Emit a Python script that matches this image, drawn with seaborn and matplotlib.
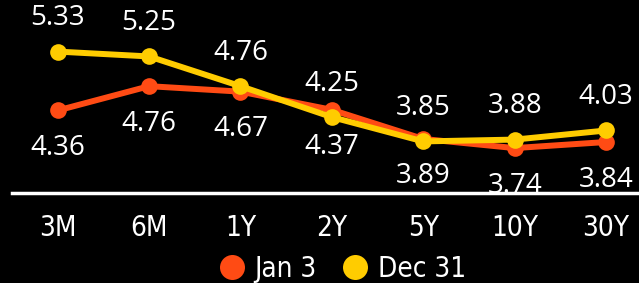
import matplotlib
matplotlib.use("Agg")
import matplotlib.pyplot as plt
from matplotlib.lines import Line2D
import seaborn as sns
import pandas as pd

sns.set_style("dark")

tenors = ["3M", "6M", "1Y", "2Y", "5Y", "10Y", "30Y"]
jan3 = [4.36, 4.76, 4.67, 4.37, 3.89, 3.74, 3.84]
dec31 = [5.33, 5.25, 4.76, 4.25, 3.85, 3.88, 4.03]
series_names = ["Jan 3", "Dec 31"]
colors = {"Jan 3": "#ff4b14", "Dec 31": "#ffcc00"}

df = pd.DataFrame({
    "tenor": tenors * 2,
    "yield": jan3 + dec31,
    "series": ["Jan 3"] * len(tenors) + ["Dec 31"] * len(tenors),
})

fig = plt.figure(figsize=(6.39, 2.83), dpi=100, facecolor="black")
ax = fig.add_axes([12 / 639, 90 / 283, 627 / 639, 193 / 283])
ax.set_facecolor("black")

sns.lineplot(data=df, x="tenor", y="yield", hue="series", hue_order=series_names,
             palette=colors, marker="o", markersize=12, markeredgewidth=0,
             linewidth=4.3, sort=False, legend=False, ax=ax)

# value labels: Dec 31 above, Jan 3 below
for i, (a, b) in enumerate(zip(jan3, dec31)):
    ax.annotate(f"{b:.2f}", (i, b), xytext=(0, 24), textcoords="offset points",
                ha="center", va="center", color="white", fontsize=20,
                family="Open Sans", clip_on=False, zorder=3)
    ax.annotate(f"{a:.2f}", (i, a), xytext=(0, -27), textcoords="offset points",
                ha="center", va="center", color="white", fontsize=20,
                family="Open Sans", clip_on=False, zorder=3)

ax.set_xlim(-0.5, 6.36)
ax.set_ylim(3.0, 6.18)
ax.set_yticks([])
ax.set_xticks(range(len(tenors)))
ax.set_xticklabels(tenors, color="white", fontsize=20, fontstretch="condensed")
ax.tick_params(axis="x", length=0, pad=15)
ax.set_xlabel("")
ax.set_ylabel("")
ax.grid(False)
for s in ["top", "left", "right"]:
    ax.spines[s].set_visible(False)
ax.spines["bottom"].set_color("white")
ax.spines["bottom"].set_linewidth(2.5)
ax.spines["bottom"].set_zorder(5)

handles = [Line2D([], [], linestyle="none", marker="o", markersize=18,
                  markerfacecolor=colors[n], markeredgewidth=0) for n in series_names]
fig.legend(handles, series_names, loc="center", bbox_to_anchor=(0.535, 14 / 283),
           ncol=2, frameon=False, labelcolor="white",
           handletextpad=0.3, columnspacing=0.9, handlelength=1.0,
           prop={"size": 20, "stretch": "condensed"})

fig.savefig("out.png", dpi=100, facecolor="black")
